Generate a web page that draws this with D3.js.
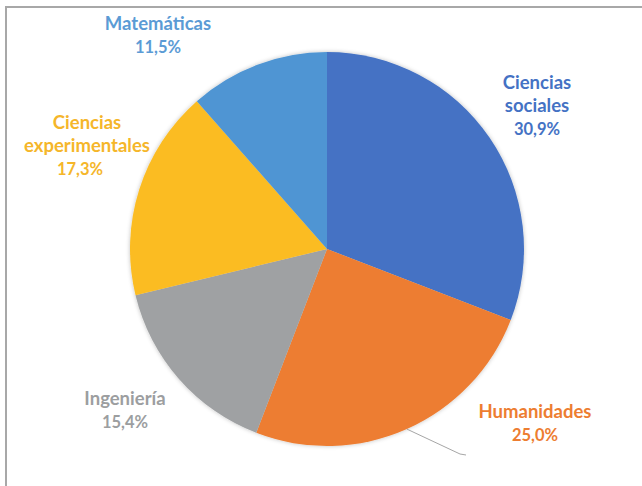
<!DOCTYPE html>
<html>
<head>
<meta charset="utf-8">
<script src="https://cdn.jsdelivr.net/npm/d3@7"></script>
<style>
  html, body { margin: 0; padding: 0; background: #fff; }
  svg { display: block; }
  text { font-family: Lato, "Open Sans", sans-serif; font-weight: 700; }
</style>
</head>
<body>
<svg id="chart" width="642" height="486"></svg>
<script>
// ---- data ----
const categories = ["Ciencias sociales", "Humanidades", "Ingeniería", "Ciencias experimentales", "Matemáticas"];
const values = [30.9, 25.0, 15.4, 17.3, 11.5];
const valueLabels = ["30,9%", "25,0%", "15,4%", "17,3%", "11,5%"];
const nameLines = [["Ciencias", "sociales"], ["Humanidades"], ["Ingeniería"], ["Ciencias", "experimentales"], ["Matemáticas"]];
const sliceColors = ["#4472C4", "#ED7D31", "#9FA1A3", "#FBBC24", "#4F95D3"];
const labelColors = ["#4472C4", "#ED7D31", "#9C9EA0", "#F5B62A", "#5B9BD5"];

// ---- layout (label anchor offsets from pie centre, px) ----
const cx = 327, cy = 249, radius = 197;
const labelAnchors = [[210, -166], [208, 163], [-202, 150], [-240, -126], [-169, -225]];
const lineGap = 23;
const pctGap = 23;

const svg = d3.select("#chart");

// frame
svg.append("line").attr("x1", 6).attr("x2", 642).attr("y1", 7).attr("y2", 7)
  .attr("stroke", "#a8a8a8").attr("stroke-width", 2);
svg.append("line").attr("x1", 6).attr("x2", 6).attr("y1", 6).attr("y2", 486)
  .attr("stroke", "#a8a8a8").attr("stroke-width", 2);

// soft shadow
const defs = svg.append("defs");
const f = defs.append("filter").attr("id", "sh").attr("x", "-10%").attr("y", "-10%").attr("width", "120%").attr("height", "120%");
f.append("feGaussianBlur").attr("in", "SourceAlpha").attr("stdDeviation", 2).attr("result", "b");
f.append("feFlood").attr("flood-color", "#000").attr("flood-opacity", 0.25).attr("result", "c");
f.append("feComposite").attr("in", "c").attr("in2", "b").attr("operator", "in").attr("result", "s");
const m = f.append("feMerge");
m.append("feMergeNode").attr("in", "s");
m.append("feMergeNode").attr("in", "SourceGraphic");

const pie = d3.pie().sort(null).value(d => d)(values);
const arc = d3.arc().innerRadius(0).outerRadius(radius);

const g = svg.append("g").attr("transform", `translate(${cx},${cy})`);
g.append("g").attr("filter", "url(#sh)")
  .selectAll("path").data(pie).join("path")
  .attr("d", arc)
  .attr("fill", (d, i) => sliceColors[i]);

// leader line for Humanidades
const hum = pie[1];
const angH = (hum.startAngle + hum.endAngle) / 2;
const p0 = [Math.sin(angH) * radius, -Math.cos(angH) * radius];
g.append("polyline")
  .attr("points", [p0, [133, 205], [139, 206]].map(p => p.join(",")).join(" "))
  .attr("fill", "none").attr("stroke", "#a6a6a6").attr("stroke-width", 1);

// labels
categories.forEach((c, i) => {
  const [ax, ay] = labelAnchors[i];
  const lines = nameLines[i];
  const t = g.append("text").attr("text-anchor", "middle").attr("fill", labelColors[i]);
  lines.forEach((ln, j) => {
    t.append("tspan").attr("x", ax).attr("y", ay + j * lineGap).attr("dy", "0.35em")
      .attr("font-size", 18.5).text(ln);
  });
  t.append("tspan").attr("x", ax - (i === 3 ? 7 : 0)).attr("y", ay + (lines.length - 1) * lineGap + pctGap)
    .attr("dy", "0.35em").attr("font-size", 16.5).text(valueLabels[i]);
});
</script>
</body>
</html>
